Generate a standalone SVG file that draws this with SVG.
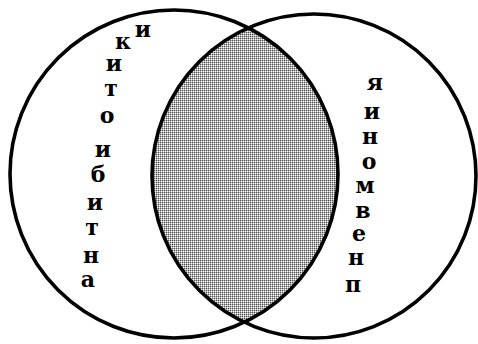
<svg xmlns="http://www.w3.org/2000/svg" width="478" height="344" viewBox="0 0 478 344">
<style>
.c{fill:none;stroke:#000;stroke-width:3.6}
.t{font-family:"DejaVu Serif","Liberation Serif",serif;font-weight:bold;font-size:22px;fill:#000;text-anchor:middle}
</style>
<defs>
<pattern id="dots" patternUnits="userSpaceOnUse" width="2" height="2">
<rect width="2" height="2" fill="#fff"/>
<rect width="1" height="1" fill="#555"/>
<rect x="1" width="1" height="1" fill="#b0b0b0"/>
<rect y="1" width="1" height="1" fill="#b0b0b0"/>
</pattern>
<clipPath id="clipL"><circle cx="174" cy="174" r="164"/></clipPath>
</defs>
<rect width="478" height="344" fill="#fff"/>
<g id="intersection">
<circle cx="314" cy="176" r="162" fill="url(#dots)" clip-path="url(#clipL)"/>
</g>
<g id="left-set">
<circle class="c" cx="174" cy="174" r="164"/>
<text class="t" x="143" y="37">и</text>
<text class="t" x="123" y="49">к</text>
<text class="t" x="114" y="71">и</text>
<text class="t" x="111" y="96">т</text>
<text class="t" x="107" y="123">о</text>
<text class="t" x="103" y="157">и</text>
<text class="t" x="98" y="182">б</text>
<text class="t" x="95" y="210">и</text>
<text class="t" x="92" y="235">т</text>
<text class="t" x="91" y="263">н</text>
<text class="t" x="88" y="287">а</text>
</g>
<g id="right-set">
<circle class="c" cx="314" cy="176" r="162"/>
<text class="t" x="375" y="90">я</text>
<text class="t" x="372" y="119">и</text>
<text class="t" x="370" y="144">н</text>
<text class="t" x="369" y="169">о</text>
<text class="t" x="365" y="193">м</text>
<text class="t" x="363" y="218">в</text>
<text class="t" x="359" y="241">е</text>
<text class="t" x="356" y="265">н</text>
<text class="t" x="353" y="292">п</text>
</g>
</svg>
